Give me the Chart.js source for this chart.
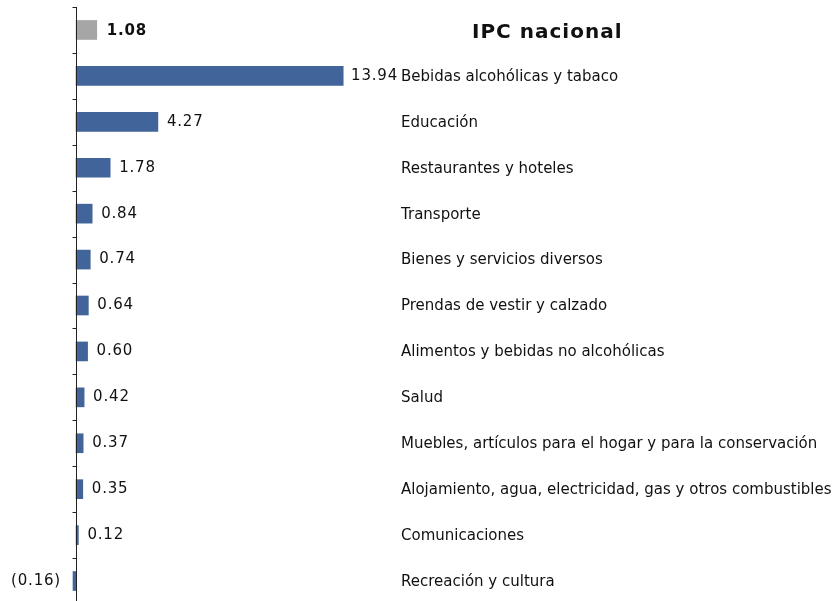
<!DOCTYPE html>
<html>
<head>
<meta charset="utf-8">
<script src="https://cdn.jsdelivr.net/npm/chart.js@4"></script>
<style>
  html, body { margin: 0; padding: 0; background: #fff; overflow: hidden; }
  #wrap { width: 833px; height: 612px; position: relative; }
</style>
</head>
<body>
<div id="wrap"><canvas id="myChart"></canvas></div>
<script>
// categorias (de arriba hacia abajo)
const categorias = [
  'IPC nacional',
  'Bebidas alcohólicas y tabaco',
  'Educación',
  'Restaurantes y hoteles',
  'Transporte',
  'Bienes y servicios diversos',
  'Prendas de vestir y calzado',
  'Alimentos y bebidas no alcohólicas',
  'Salud',
  'Muebles, artículos para el hogar y para la conservación',
  'Alojamiento, agua, electricidad, gas y otros combustibles',
  'Comunicaciones',
  'Recreación y cultura'
];
const variacion = [1.08, 13.94, 4.27, 1.78, 0.84, 0.74, 0.64, 0.60, 0.42, 0.37, 0.35, 0.12, -0.16];
const etiquetas = ['1.08', '13.94', '4.27', '1.78', '0.84', '0.74', '0.64', '0.60', '0.42', '0.37', '0.35', '0.12', '(0.16)'];

const azul = '#41659a';
const gris = '#a6a6a6';
const fuente = '"DejaVu Sans", Verdana, sans-serif';

const colores = variacion.map((v, i) => i === 0 ? gris : azul);

// ejes, etiquetas y nombres dibujados a mano
const dibujoExtra = {
  id: 'dibujoExtra',
  afterDatasetsDraw(chart) {
    const ctx = chart.ctx;
    const x = chart.scales.x;
    const y = chart.scales.y;
    const x0 = Math.round(x.getPixelForValue(0)) + 0.5;
    ctx.save();
    // eje vertical
    ctx.strokeStyle = '#222';
    ctx.lineWidth = 1;
    ctx.beginPath();
    ctx.moveTo(x0, y.top);
    ctx.lineTo(x0, 640);
    ctx.stroke();
    // marcas entre categorias
    const paso = (y.bottom - y.top) / categorias.length;
    for (let k = 0; k <= categorias.length; k++) {
      const yy = Math.round(y.top + k * paso) + 0.5;
      ctx.beginPath();
      ctx.moveTo(x0 - 4, yy);
      ctx.lineTo(x0, yy);
      ctx.stroke();
    }
    // valores y categorias
    ctx.textBaseline = 'middle';
    ctx.fillStyle = '#111';
    const meta = chart.getDatasetMeta(0);
    meta.data.forEach((bar, i) => {
      const yc = bar.y;
      if (i === 0) {
        ctx.letterSpacing = '0.8px';
        ctx.font = 'bold 15px ' + fuente;
        ctx.textAlign = 'left';
        ctx.fillText(etiquetas[i], bar.x + 10, yc + 1);
        ctx.letterSpacing = '1px';
        ctx.font = 'bold 20px ' + fuente;
        ctx.textAlign = 'left';
        ctx.fillText(categorias[i], 472, yc + 3);
        return;
      }
      ctx.letterSpacing = '0.8px';
      ctx.font = '15px ' + fuente;
      if (variacion[i] < 0) {
        ctx.textAlign = 'right';
        ctx.fillText(etiquetas[i], bar.x - 12, yc);
      } else {
        ctx.textAlign = 'left';
        let lx = bar.x + 9;
        const w = ctx.measureText(etiquetas[i]).width;
        if (lx + w > 398) lx = 398 - w;
        ctx.fillText(etiquetas[i], lx, yc);
      }
      ctx.letterSpacing = '0px';
      ctx.font = '15px ' + fuente;
      ctx.textAlign = 'left';
      ctx.fillText(categorias[i], 401, yc + 1);
    });
    ctx.restore();
  }
};

const ctx = document.getElementById('myChart').getContext('2d');
const chart = new Chart(ctx, {
  type: 'bar',
  data: {
    labels: categorias,
    datasets: [{
      data: variacion,
      backgroundColor: colores,
      borderWidth: 0,
      barThickness: 19
    }]
  },
  options: {
    indexAxis: 'y',
    responsive: true,
    maintainAspectRatio: false,
    animation: false,
    layout: { padding: { top: 7, left: 0, right: 0, bottom: 8 } },
    plugins: {
      legend: { display: false },
      tooltip: { enabled: false }
    },
    scales: {
      x: { display: false, min: -3.97, max: 39.5 },
      y: { display: false, offset: true }
    }
  },
  plugins: [dibujoExtra]
});
</script>
</body>
</html>
